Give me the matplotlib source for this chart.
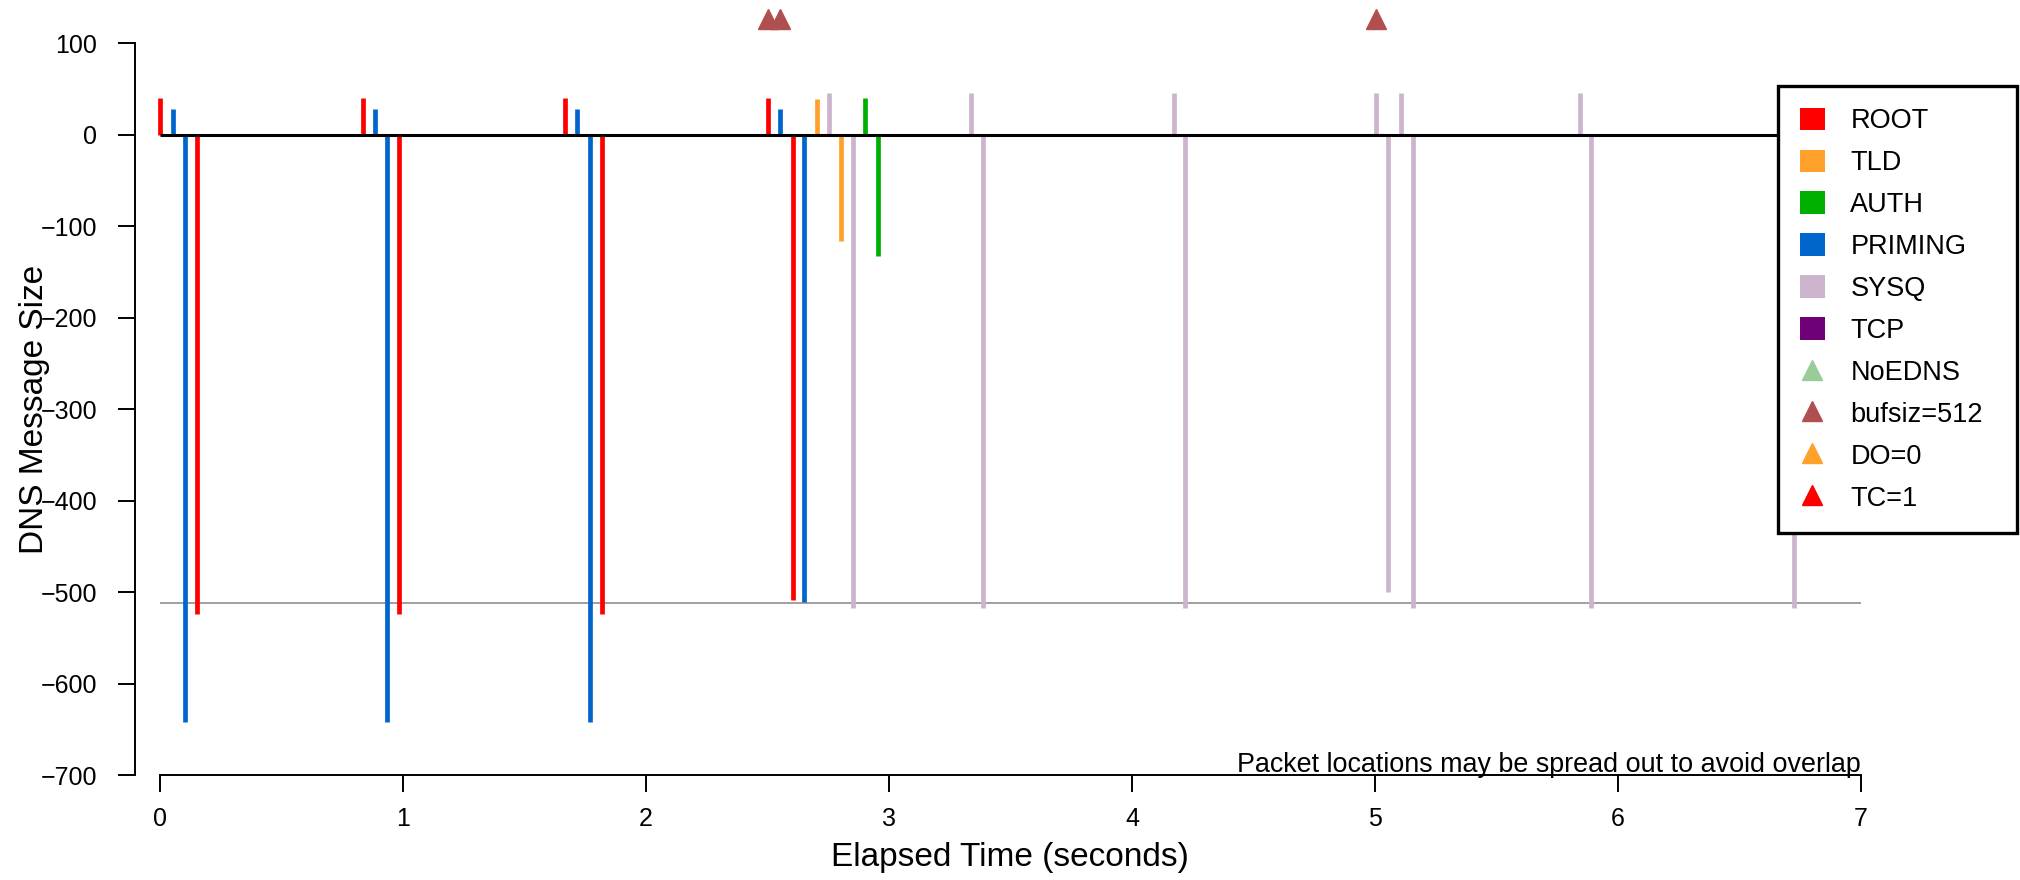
import matplotlib
matplotlib.use("Agg")
import matplotlib.pyplot as plt
from matplotlib.patches import Patch
from matplotlib.lines import Line2D

plt.rcParams['font.family'] = ['Liberation Sans', 'DejaVu Sans']

# packet times (seconds) and signed sizes: queries up, responses down
root_t = [0.000, 0.152, 0.834, 0.984, 1.668, 1.818, 2.503, 2.603]
root_size = [40, -524, 40, -524, 40, -524, 40, -509]

priming_t = [0.052, 0.101, 0.883, 0.933, 1.717, 1.768, 2.552, 2.651]
priming_size = [28, -642, 28, -642, 28, -642, 28, -511]

tld_t = [2.702, 2.802]
tld_size = [39, -116]

auth_t = [2.903, 2.953]
auth_size = [40, -132]

sysq_t = [2.752, 2.851, 3.337, 3.386, 4.171, 4.220, 5.005, 5.054,
          5.106, 5.155, 5.842, 5.889, 6.675, 6.725]
sysq_size = [46, -517, 46, -517, 46, -517, 46, -500,
             46, -517, 46, -517, 46, -517]

# EDNS flags marked above the plot
bufsiz_t = [2.503, 2.552, 5.005]
flag_y = 126.5

x_ticks = [0, 1, 2, 3, 4, 5, 6, 7]
y_ticks = [-700, -600, -500, -400, -300, -200, -100, 0, 100]
buf_limit = -512

colors = {
    'ROOT': '#FF0000', 'TLD': '#FFA02A', 'AUTH': '#00B000',
    'PRIMING': '#0066CC', 'SYSQ': '#CDB4CD', 'TCP': '#700078',
    'NoEDNS': '#99CC99', 'bufsiz=512': '#B04F4F', 'DO=0': '#FFA02A',
    'TC=1': '#FF0000',
}

fig = plt.figure(figsize=(20.2, 8.8), dpi=100)
ax = fig.add_axes([135 / 2020, 105 / 880, 1775 / 2020, 759 / 880])

ax.hlines(buf_limit, 0, 7, color='#999999', lw=1.3, zorder=1)
ax.hlines(0, 0, 7, color='black', lw=2.2, zorder=3)

bw = 3.4
ax.vlines(root_t, 0, root_size, colors=colors['ROOT'], lw=bw, zorder=2)
ax.vlines(priming_t, 0, priming_size, colors=colors['PRIMING'], lw=bw, zorder=2)
ax.vlines(tld_t, 0, tld_size, colors=colors['TLD'], lw=bw, zorder=2)
ax.vlines(sysq_t, 0, sysq_size, colors=colors['SYSQ'], lw=bw, zorder=2)
ax.vlines(auth_t, 0, auth_size, colors=colors['AUTH'], lw=bw, zorder=2)

ax.plot(bufsiz_t, [flag_y] * len(bufsiz_t), ls='none', marker='^', ms=15,
        color=colors['bufsiz=512'], clip_on=False, zorder=4)

ax.set_xlim(-0.1029, 7.2016)
ax.set_ylim(-699.45, 130.05)

for s in ['top', 'right']:
    ax.spines[s].set_visible(False)
ax.spines['left'].set_bounds(-700, 100)
ax.spines['bottom'].set_bounds(0, 7)
ax.spines['left'].set_linewidth(1.4)
ax.spines['bottom'].set_linewidth(1.4)

ax.set_xticks(x_ticks)
ax.set_yticks(y_ticks)
ax.tick_params(axis='both', length=12.2, width=1.4, labelsize=18)
ax.tick_params(axis='y', pad=15)
ax.tick_params(axis='x', pad=11)

ax.set_xlabel('Elapsed Time (seconds)', fontsize=24)
ax.xaxis.set_label_coords(0.493, -0.0885)
ax.set_ylabel('DNS Message Size', fontsize=24)
ax.yaxis.set_label_coords(-0.048, 0.481)

ax.text(7, -697, 'Packet locations may be spread out to avoid overlap',
        ha='right', va='baseline', fontsize=19.4)

handles = [Patch(facecolor=colors[k], edgecolor='none', label=k)
           for k in ['ROOT', 'TLD', 'AUTH', 'PRIMING', 'SYSQ', 'TCP']]
handles += [Line2D([], [], ls='none', marker='^', ms=15, color=colors[k], label=k)
            for k in ['NoEDNS', 'bufsiz=512', 'DO=0', 'TC=1']]

leg_top = 1 - 86 / 880
leg = ax.legend(handles=handles, loc='upper left',
                bbox_to_anchor=(1778 / 2020, leg_top - 0.01, 239 / 2020, 0.01),
                bbox_transform=fig.transFigure, mode='expand',
                fontsize=19.5, frameon=True, fancybox=False, framealpha=1,
                edgecolor='black', borderpad=0.8, labelspacing=0.56,
                handlelength=0.92, handleheight=0.92, handletextpad=0.95,
                borderaxespad=0)
leg.get_frame().set_linewidth(2.4)

fig.savefig('out.png', dpi=100)
